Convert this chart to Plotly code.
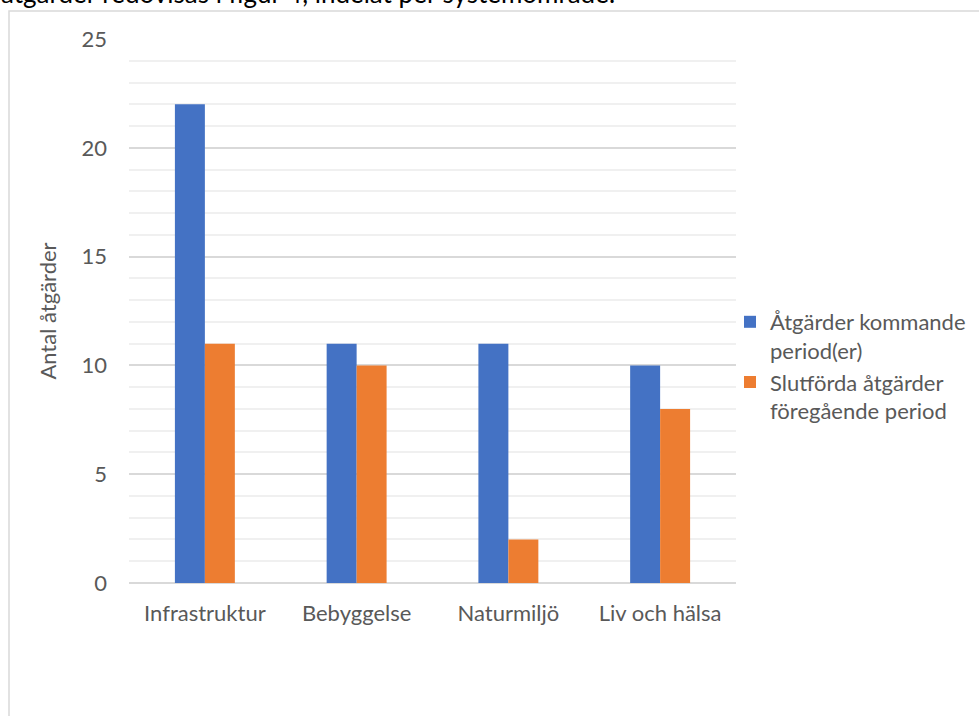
import plotly.graph_objects as go

categories = ["Infrastruktur", "Bebyggelse", "Naturmiljö", "Liv och hälsa"]
series_names = ["Åtgärder kommande<br>period(er)", "Slutförda åtgärder<br>föregående period"]
kommande = [22, 11, 11, 10]
slutforda = [11, 10, 2, 8]
y_ticks = [0, 5, 10, 15, 20, 25]
y_title = "Antal åtgärder"
top_text = "åtgärder redovisas i figur 4, indelat per systemområde."

W, H = 979, 716
L, R, T, B = 129, 243, 39, 133
pw, ph = W - L - R, H - T - B

def px_x(p):
    return (p - L) / pw

def px_y(p):
    return (H - B - p) / ph

FONT = "Lato, Carlito, Calibri, sans-serif"
GREY = "#595959"
FS = 22

fig = go.Figure()
fig.add_trace(go.Bar(x=categories, y=kommande, name=series_names[0],
                     marker=dict(color="#4472C4", line=dict(width=0))))
fig.add_trace(go.Bar(x=categories, y=slutforda, name=series_names[1],
                     marker=dict(color="#ED7D31", line=dict(width=0))))

fig.update_layout(
    width=W, height=H,
    margin=dict(l=L, r=R, t=T, b=B, autoexpand=False),
    paper_bgcolor="white", plot_bgcolor="white",
    barmode="group", bargap=0.605, bargroupgap=0,
    font=dict(family=FONT, size=FS, color=GREY),
    legend=dict(x=px_x(730), y=px_y(301), xanchor="left", yanchor="top",
                font=dict(family=FONT, size=FS, color=GREY),
                tracegroupgap=15, valign="top", bgcolor="rgba(0,0,0,0)"),
    xaxis=dict(showgrid=False, showline=False, zeroline=False, ticks="",
               tickfont=dict(family=FONT, size=FS, color=GREY),
               ticklabelstandoff=15, fixedrange=True),
    yaxis=dict(range=[0, 25], tickvals=y_ticks, showline=False,
               zeroline=True, zerolinecolor="#d9d9d9", zerolinewidth=1.5,
               showgrid=True, gridcolor="#d9d9d9", gridwidth=1.5,
               minor=dict(dtick=1, showgrid=True, gridcolor="#f0f0f0", gridwidth=1.5),
               ticks="", tickfont=dict(family=FONT, size=FS, color=GREY),
               ticklabelstandoff=21,
               title=dict(text=y_title, font=dict(family=FONT, size=FS, color=GREY), standoff=18),
               fixedrange=True),
    showlegend=True,
)

# border frame of the embedded chart object
fig.add_shape(type="rect", xref="paper", yref="paper",
              x0=px_x(9), x1=px_x(995), y0=px_y(11), y1=px_y(730),
              line=dict(color="#d9d9d9", width=1.5), fillcolor="rgba(0,0,0,0)", layer="below")

# cut-off document text above the chart
fig.add_annotation(text=top_text, xref="paper", yref="paper",
                   x=px_x(-1), y=px_y(-7), xanchor="left", yanchor="middle",
                   showarrow=False, font=dict(family=FONT, size=26, color="#000000"))

fig.write_html("out.html")
